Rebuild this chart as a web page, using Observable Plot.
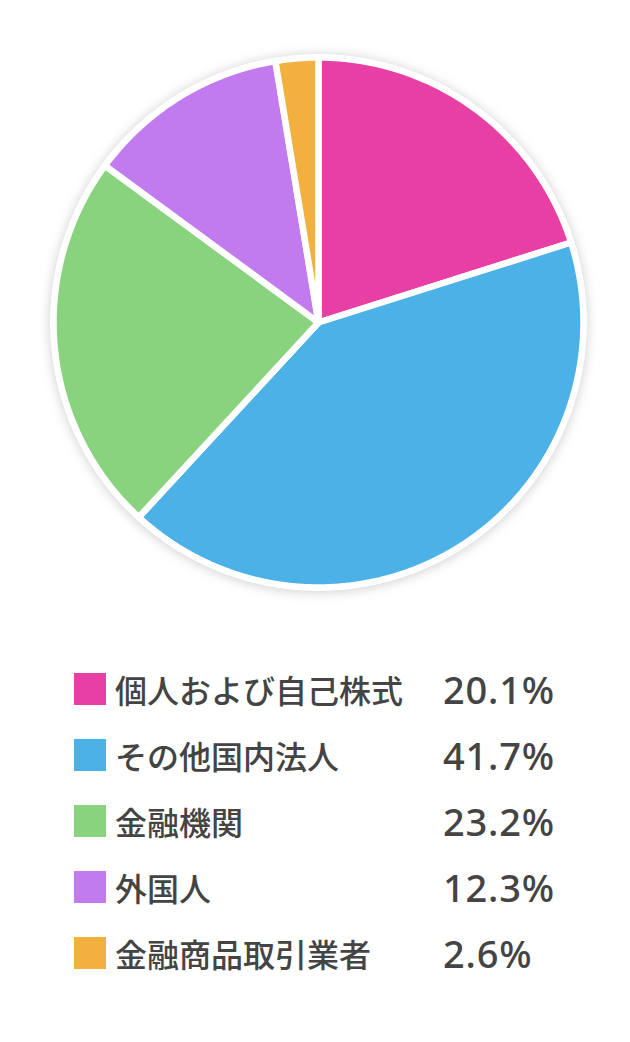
<!DOCTYPE html>
<html>
<head>
<meta charset="utf-8">
<script src="https://cdn.jsdelivr.net/npm/d3@7"></script>
<script src="https://cdn.jsdelivr.net/npm/@observablehq/plot@0.6"></script>
<style>
  html, body { margin: 0; padding: 0; background: #fff; }
  #chart svg { display: block; }
  #legend { margin-top: 16px; }
  .row { display: flex; align-items: center; height: 66px; }
  .sw { width: 32px; height: 32px; margin-left: 74px; margin-right: 9px; flex: none; }
  .lab { width: 328px; font-family: "Noto Sans CJK JP", sans-serif; font-size: 32px; font-weight: 500; color: #444; line-height: 1; }
  .pct { font-family: "Noto Sans", sans-serif; font-size: 38px; font-weight: 500; letter-spacing: 0.8px; color: #444; line-height: 1; }
</style>
</head>
<body>
<div id="chart"></div>
<div id="legend"></div>
<script>
const categories = ["個人および自己株式", "その他国内法人", "金融機関", "外国人", "金融商品取引業者"];
const values = [20.1, 41.7, 23.2, 12.3, 2.6];
const labels = ["20.1%", "41.7%", "23.2%", "12.3%", "2.6%"];
const colors = ["#e83fa5", "#4cb1e6", "#89d37e", "#c27bef", "#f2b13e"];

const arcs = d3.pie().sort(null).value(d => d)(values);
const pts = [];
arcs.forEach((a, i) => {
  const k = categories[i];
  pts.push({k, x: 0, y: 0});
  const n = Math.max(2, Math.ceil((a.endAngle - a.startAngle) / 0.005));
  for (let j = 0; j <= n; j++) {
    const t = a.startAngle + (a.endAngle - a.startAngle) * j / n;
    pts.push({k, x: Math.sin(t), y: Math.cos(t)});
  }
  pts.push({k, x: 0, y: 0});
});
const disk = d3.range(0, 721).map(j => {
  const t = j / 720 * 2 * Math.PI;
  return {x: 1.012 * Math.sin(t), y: 1.012 * Math.cos(t)};
});

const R = 265, cx = 318, cy = 322;
const svg = Plot.plot({
  width: 630,
  height: 640,
  margin: 0,
  x: {domain: [-1, 1], range: [cx - R, cx + R], axis: null},
  y: {domain: [-1, 1], range: [cy + R, cy - R], axis: null},
  color: {domain: categories, range: colors},
  marks: [
    Plot.line(disk, {x: "x", y: "y", fill: "white", stroke: "none"}),
    Plot.line(pts, {x: "x", y: "y", z: "k", fill: "k", stroke: "white", strokeWidth: 6.5, strokeLinejoin: "round"})
  ]
});
d3.select(svg).select("g[aria-label=line]").style("filter", "drop-shadow(0px 1px 6px rgba(0,0,0,0.2))");
document.getElementById("chart").appendChild(svg);

const lg = d3.select("#legend");
categories.forEach((c, i) => {
  const r = lg.append("div").attr("class", "row");
  r.append("div").attr("class", "sw").style("background", colors[i]);
  r.append("div").attr("class", "lab").text(c);
  r.append("div").attr("class", "pct").text(labels[i]);
});
</script>
</body>
</html>
